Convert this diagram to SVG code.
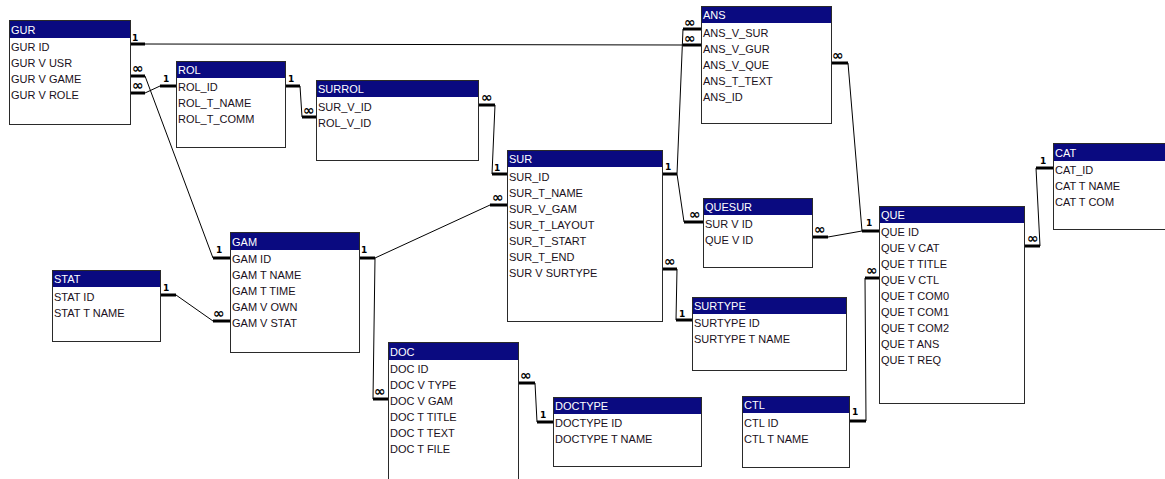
<svg xmlns="http://www.w3.org/2000/svg" width="1165" height="479" viewBox="0 0 1165 479">
<style>
.box{fill:#fff;stroke:#2a2a2a;stroke-width:1}
.hdr{fill:#0a0a80}
.ht{font-family:"Liberation Sans",Arial,sans-serif;font-size:11px;fill:#fff}
.ft{font-family:"Liberation Sans",Arial,sans-serif;font-size:11px;fill:#1a1020}
.ln{stroke:#000;stroke-width:1;fill:none}
.tk{stroke:#000;stroke-width:3;fill:none}
.one{font-family:"DejaVu Sans",sans-serif;font-size:9px;font-weight:bold;fill:#000}
.inf{font-family:"DejaVu Sans",sans-serif;font-size:14px;font-weight:bold;fill:#000}
</style>
<rect width="1165" height="479" fill="#fff"/>
<g id="connectors">
<path class="tk" d="M130,44H145"/><path class="ln" d="M145,44L683,45"/><path class="tk" d="M683,45H701"/>
<text class="one" x="132" y="41">1</text><text class="inf" x="684" y="43">∞</text>
<path class="tk" d="M662,174H677"/><path class="ln" d="M677,174L683,29"/><path class="tk" d="M683,29H701"/>
<text class="one" x="665" y="170">1</text><text class="inf" x="684" y="27">∞</text>
<path class="ln" d="M677,174L684,222"/><path class="tk" d="M684,222H703"/>
<text class="inf" x="689" y="219">∞</text>
<path class="tk" d="M130,76H145"/><path class="ln" d="M145,76L213,258"/><path class="tk" d="M213,258H230"/>
<text class="inf" x="132" y="73">∞</text><text class="one" x="216" y="253">1</text>
<path class="tk" d="M130,93H145"/><path class="ln" d="M145,93L160,86"/><path class="tk" d="M160,86H176"/>
<text class="inf" x="132" y="90">∞</text><text class="one" x="163" y="82">1</text>
<path class="tk" d="M285,86H300"/><path class="ln" d="M300,86L302,117"/><path class="tk" d="M302,117H316"/>
<text class="one" x="288" y="82">1</text><text class="inf" x="303" y="115">∞</text>
<path class="tk" d="M478,105H495"/><path class="ln" d="M495,105L492,174"/><path class="tk" d="M492,174H507"/>
<text class="inf" x="481" y="102">∞</text><text class="one" x="494" y="171">1</text>
<path class="tk" d="M359,258H375"/><path class="ln" d="M375,258L490,205"/><path class="tk" d="M490,205H507"/>
<text class="one" x="361" y="253">1</text><text class="inf" x="492" y="202">∞</text>
<path class="ln" d="M375,258L373,399"/><path class="tk" d="M373,399H388"/>
<text class="inf" x="374" y="396">∞</text>
<path class="tk" d="M160,295H176"/><path class="ln" d="M176,295L213,321"/><path class="tk" d="M213,321H230"/>
<text class="one" x="163" y="291">1</text><text class="inf" x="213" y="318">∞</text>
<path class="tk" d="M518,383H535"/><path class="ln" d="M535,383L537,422"/><path class="tk" d="M537,422H553"/>
<text class="inf" x="520" y="380">∞</text><text class="one" x="540" y="418">1</text>
<path class="tk" d="M662,269H677"/><path class="ln" d="M677,269L676,320"/><path class="tk" d="M676,320H692"/>
<text class="inf" x="664" y="266">∞</text><text class="one" x="679" y="317">1</text>
<path class="tk" d="M812,237H828"/><path class="ln" d="M828,237L862,231"/><path class="tk" d="M862,231H879"/>
<text class="inf" x="814" y="234">∞</text><text class="one" x="866" y="226">1</text>
<path class="tk" d="M831,63H848"/><path class="ln" d="M848,63L862,231"/>
<text class="inf" x="832" y="60">∞</text>
<path class="tk" d="M849,421H866"/><path class="ln" d="M866,421L865,278"/><path class="tk" d="M865,278H879"/>
<text class="one" x="852" y="415">1</text><text class="inf" x="866" y="275">∞</text>
<path class="tk" d="M1036,168H1053"/><path class="ln" d="M1036,168L1040,246"/><path class="tk" d="M1024,246H1040"/>
<text class="one" x="1040" y="164">1</text><text class="inf" x="1027" y="243">∞</text>
</g>
<g id="GUR">
<rect class="box" x="9.5" y="20.5" width="121" height="104"/><rect class="hdr" x="10" y="21" width="120" height="17"/>
<text class="ht" x="11" y="34">GUR</text>
<text class="ft" x="11" y="51">GUR ID</text><text class="ft" x="11" y="67">GUR V USR</text><text class="ft" x="11" y="83">GUR V GAME</text><text class="ft" x="11" y="99">GUR V ROLE</text>
</g>
<g id="ROL">
<rect class="box" x="176.5" y="61.5" width="109" height="86"/><rect class="hdr" x="177" y="62" width="108" height="16"/>
<text class="ht" x="178" y="74">ROL</text>
<text class="ft" x="178" y="91">ROL_ID</text><text class="ft" x="178" y="107">ROL_T_NAME</text><text class="ft" x="178" y="123">ROL_T_COMM</text>
</g>
<g id="SURROL">
<rect class="box" x="316.5" y="80.5" width="162" height="80"/><rect class="hdr" x="317" y="81" width="161" height="16"/>
<text class="ht" x="318" y="93">SURROL</text>
<text class="ft" x="318" y="111">SUR_V_ID</text><text class="ft" x="318" y="127">ROL_V_ID</text>
</g>
<g id="SUR">
<rect class="box" x="507.5" y="150.5" width="155" height="171"/><rect class="hdr" x="508" y="151" width="154" height="16"/>
<text class="ht" x="509" y="163">SUR</text>
<text class="ft" x="509" y="181">SUR_ID</text><text class="ft" x="509" y="197">SUR_T_NAME</text><text class="ft" x="509" y="213">SUR_V_GAM</text><text class="ft" x="509" y="229">SUR_T_LAYOUT</text><text class="ft" x="509" y="245">SUR_T_START</text><text class="ft" x="509" y="261">SUR_T_END</text><text class="ft" x="509" y="277">SUR V SURTYPE</text>
</g>
<g id="ANS">
<rect class="box" x="701.5" y="6.5" width="130" height="117"/><rect class="hdr" x="702" y="7" width="129" height="16"/>
<text class="ht" x="703" y="19">ANS</text>
<text class="ft" x="703" y="37">ANS_V_SUR</text><text class="ft" x="703" y="53">ANS_V_GUR</text><text class="ft" x="703" y="69">ANS_V_QUE</text><text class="ft" x="703" y="85">ANS_T_TEXT</text><text class="ft" x="703" y="101">ANS_ID</text>
</g>
<g id="QUESUR">
<rect class="box" x="703.5" y="198.5" width="109" height="69"/><rect class="hdr" x="704" y="199" width="108" height="16"/>
<text class="ht" x="705" y="211">QUESUR</text>
<text class="ft" x="705" y="228">SUR V ID</text><text class="ft" x="705" y="244">QUE V ID</text>
</g>
<g id="SURTYPE">
<rect class="box" x="692.5" y="297.5" width="154" height="73"/><rect class="hdr" x="693" y="298" width="153" height="16"/>
<text class="ht" x="694" y="310">SURTYPE</text>
<text class="ft" x="694" y="327">SURTYPE ID</text><text class="ft" x="694" y="343">SURTYPE T NAME</text>
</g>
<g id="QUE">
<rect class="box" x="879.5" y="206.5" width="145" height="197"/><rect class="hdr" x="880" y="207" width="144" height="16"/>
<text class="ht" x="881" y="219">QUE</text>
<text class="ft" x="881" y="236">QUE ID</text><text class="ft" x="881" y="252">QUE V CAT</text><text class="ft" x="881" y="268">QUE T TITLE</text><text class="ft" x="881" y="284">QUE V CTL</text><text class="ft" x="881" y="300">QUE T COM0</text><text class="ft" x="881" y="316">QUE T COM1</text><text class="ft" x="881" y="332">QUE T COM2</text><text class="ft" x="881" y="348">QUE T ANS</text><text class="ft" x="881" y="364">QUE T REQ</text>
</g>
<g id="CAT">
<rect class="box" x="1053.5" y="143.5" width="114" height="86"/><rect class="hdr" x="1054" y="144" width="112" height="17"/>
<text class="ht" x="1055" y="157">CAT</text>
<text class="ft" x="1055" y="174">CAT_ID</text><text class="ft" x="1055" y="190">CAT T NAME</text><text class="ft" x="1055" y="206">CAT T COM</text>
</g>
<g id="GAM">
<rect class="box" x="230.5" y="232.5" width="129" height="120"/><rect class="hdr" x="231" y="233" width="128" height="17"/>
<text class="ht" x="232" y="246">GAM</text>
<text class="ft" x="232" y="263">GAM ID</text><text class="ft" x="232" y="279">GAM T NAME</text><text class="ft" x="232" y="295">GAM T TIME</text><text class="ft" x="232" y="311">GAM V OWN</text><text class="ft" x="232" y="327">GAM V STAT</text>
</g>
<g id="STAT">
<rect class="box" x="52.5" y="270.5" width="108" height="71"/><rect class="hdr" x="53" y="271" width="107" height="16"/>
<text class="ht" x="54" y="283">STAT</text>
<text class="ft" x="54" y="301">STAT ID</text><text class="ft" x="54" y="317">STAT T NAME</text>
</g>
<g id="DOC">
<rect class="box" x="388.5" y="342.5" width="130" height="145"/><rect class="hdr" x="389" y="343" width="129" height="17"/>
<text class="ht" x="390" y="356">DOC</text>
<text class="ft" x="390" y="373">DOC ID</text><text class="ft" x="390" y="389">DOC V TYPE</text><text class="ft" x="390" y="405">DOC V GAM</text><text class="ft" x="390" y="421">DOC T TITLE</text><text class="ft" x="390" y="437">DOC T TEXT</text><text class="ft" x="390" y="453">DOC T FILE</text>
</g>
<g id="DOCTYPE">
<rect class="box" x="553.5" y="397.5" width="148" height="69"/><rect class="hdr" x="554" y="398" width="147" height="16"/>
<text class="ht" x="555" y="410">DOCTYPE</text>
<text class="ft" x="555" y="427">DOCTYPE ID</text><text class="ft" x="555" y="443">DOCTYPE T NAME</text>
</g>
<g id="CTL">
<rect class="box" x="742.5" y="396.5" width="107" height="71"/><rect class="hdr" x="743" y="397" width="106" height="16"/>
<text class="ht" x="744" y="409">CTL</text>
<text class="ft" x="744" y="427">CTL ID</text><text class="ft" x="744" y="443">CTL T NAME</text>
</g>
</svg>
